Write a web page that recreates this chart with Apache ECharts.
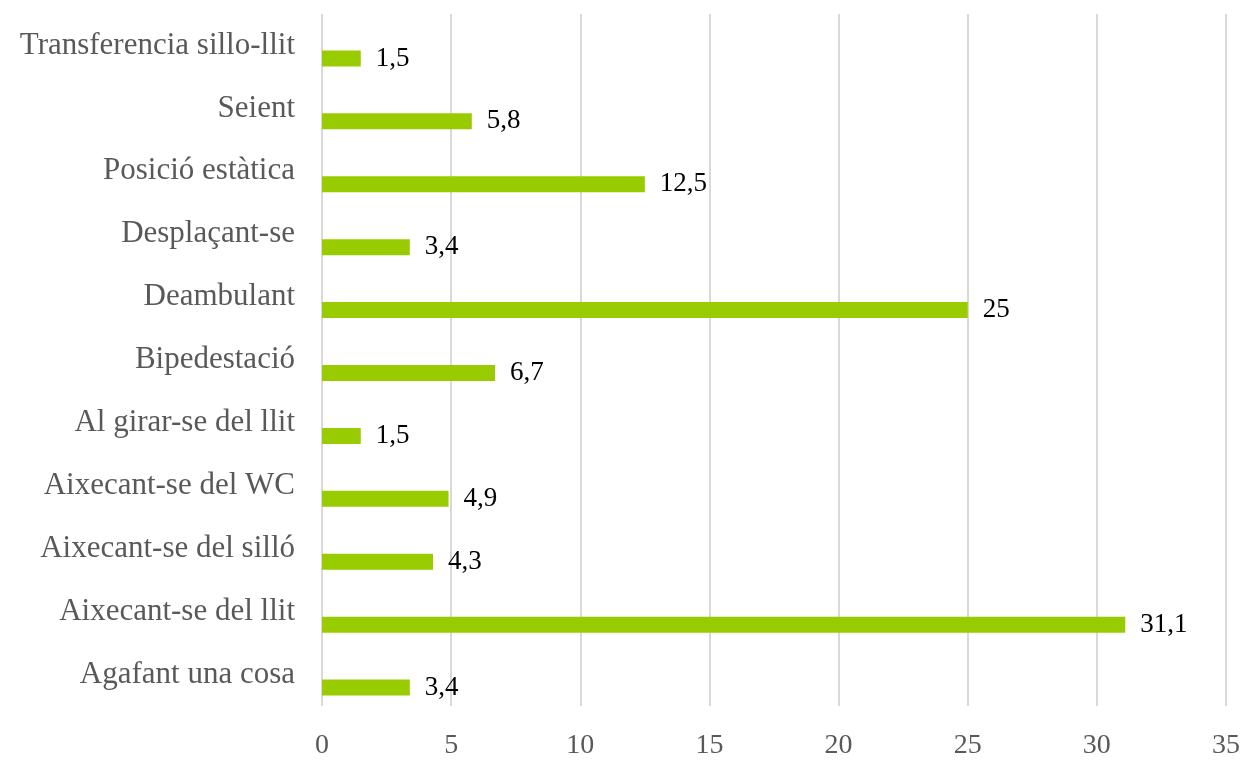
<!DOCTYPE html>
<html>
<head>
<meta charset="utf-8">
<title>Caigudes segons activitat</title>
<script src="https://cdn.jsdelivr.net/npm/echarts@6/dist/echarts.min.js"></script>
<style>
  html, body { margin: 0; padding: 0; background: #fff; }
  #chart { width: 1243px; height: 760px; }
</style>
</head>
<body>
<div id="chart"></div>
<script>
// Activities, listed from the bottom of the axis upwards
const categories = [
  'Agafant una cosa',
  'Aixecant-se del llit',
  'Aixecant-se del silló',
  'Aixecant-se del WC',
  'Al girar-se del llit',
  'Bipedestació',
  'Deambulant',
  'Desplaçant-se',
  'Posició estàtica',
  'Seient',
  'Transferencia sillo-llit'
];
// Percentage for each activity
const values = [3.4, 31.1, 4.3, 4.9, 1.5, 6.7, 25, 3.4, 12.5, 5.8, 1.5];
// Value axis ticks
const xMin = 0;
const xMax = 35;
const xStep = 5;

const serif = '"Liberation Serif", "Times New Roman", serif';
const chart = echarts.init(document.getElementById('chart'));

chart.setOption({
  animation: false,
  grid: { left: 322, right: 16, top: 14, bottom: 53, containLabel: false },
  xAxis: {
    type: 'value',
    min: xMin,
    max: xMax,
    interval: xStep,
    axisLine: { show: false },
    axisTick: { show: false },
    axisLabel: {
      fontFamily: serif,
      fontSize: 28,
      color: '#595959',
      margin: 26
    },
    splitLine: { show: true, lineStyle: { color: '#d9d9d9', width: 2 } }
  },
  yAxis: {
    type: 'category',
    data: categories,
    axisLine: { show: false },
    axisTick: { show: false },
    axisLabel: {
      fontFamily: serif,
      fontSize: 31,
      color: '#595959',
      margin: 27,
      padding: [0, 0, 3, 0]
    }
  },
  series: [
    {
      // empty slot that keeps the visible bar in the lower half of each band
      name: '',
      type: 'bar',
      data: [],
      barWidth: 16,
      barGap: '62.5%'
    },
    {
      name: '%',
      type: 'bar',
      data: values,
      barWidth: 16,
      barGap: '62.5%',
      itemStyle: { color: '#99cc00' },
      label: {
        show: true,
        position: 'right',
        distance: 15,
        fontFamily: serif,
        fontSize: 27,
        color: '#000',
        formatter: p => String(p.value).replace('.', ',')
      }
    }
  ]
});
</script>
</body>
</html>
